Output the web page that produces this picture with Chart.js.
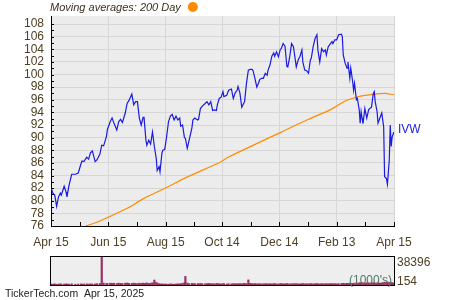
<!DOCTYPE html>
<html>
<head>
<meta charset="utf-8">
<script src="https://cdn.jsdelivr.net/npm/chart.js@4.4.1/dist/chart.umd.min.js"></script>
<style>
  html, body { margin: 0; padding: 0; background: #ffffff; }
  #wrap { position: relative; width: 450px; height: 300px; overflow: hidden; }
  #main { position: absolute; left: 0; top: 0; }
  #vol { position: absolute; left: 0; top: 250px; }
</style>
</head>
<body>
<div id="wrap">
  <canvas id="main" width="450" height="250"></canvas>
  <canvas id="vol" width="450" height="50"></canvas>
</div>
<script>
// ---- Data (days since Apr 15, 2024) ----
const priceDays = [0,2,4,6,8,10,11,14,16,17,19,22,26,29,32,33,35,38,40,42,44,47,49,52,54,56,59,60,63,65,67,70,72,74,76,79,81,83,86,88,90,92,94,96,98,99,101,102,104,106,108,110,112,113,115,116,118,119,121,123,125,127,129,131,133,135,137,138,140,142,143,145,147,150,151,153,156,157,159,161,164,166,168,170,172,174,176,177,179,181,183,184,187,189,192,194,196,198,199,201,203,205,206,208,210,212,214,215,217,219,221,222,224,226,228,230,231,233,235,237,238,240,242,244,245,247,249,251,252,254,256,258,260,261,263,265,267,268,270,272,274,276,277,279,281,283,284,286,288,290,292,293,295,297,299,300,302,304,306,309,310,311,313,315,316,318,319,321,322,323,325,326,328,329,330,331,332,334,336,338,339,341,343,344,345,347,348,350,352,354,355,357,358,360,361,362,363,365];
const priceVals = [82.1,81.2,80.9,79.1,80.6,81.2,80.9,82.3,81.4,80.6,82.3,84.2,84.2,84.4,85.9,86.3,86.2,86.9,86.6,87.6,87.9,86.2,86.5,87.4,88.8,88.7,90.2,91.3,92.5,93.1,92.3,91.2,92.5,92.9,92.4,93.9,95.4,95.9,96.9,95.2,95.7,95.7,93.1,92.0,93.2,93.2,89.6,88.8,89.6,89.0,90.9,88.6,86.7,84.8,85.4,84.6,87.5,88.0,88.1,90.1,92.5,93.4,93.7,92.8,93.4,92.8,93.1,91.8,92.0,90.0,89.9,88.3,89.6,91.6,92.8,93.1,92.8,92.9,94.6,95.0,95.4,95.7,95.2,95.7,94.3,94.4,94.3,95.2,96.2,96.4,97.3,96.5,96.7,97.5,97.7,96.2,97.1,97.5,98.1,97.1,94.8,95.4,95.7,98.6,100.7,100.8,100.8,100.6,99.4,98.0,98.7,99.2,99.4,99.4,100.2,99.9,100.7,101.5,102.9,103.4,102.9,103.6,102.8,104.0,104.1,104.9,104.5,101.3,101.2,102.8,104.9,104.4,102.3,101.2,102.3,102.9,103.9,102.0,100.7,100.6,100.2,102.3,102.6,104.4,105.7,106.3,103.9,102.0,104.1,103.6,103.9,103.1,104.4,104.8,105.2,104.9,105.5,105.5,106.3,106.4,106.0,103.1,101.8,101.0,102.0,99.4,101.0,98.9,97.5,98.6,96.0,96.2,94.4,92.3,94.1,93.1,92.2,94.6,93.1,94.4,94.6,94.8,97.0,97.3,95.7,94.1,92.3,93.1,93.9,91.7,83.8,83.5,82.6,86.5,92.0,88.6,90.1,90.9];

const maDays = [37,52,81,98,123,144,180,190,244,274,297,304,313,325,334,345,355,365];
const maVals = [76.0,76.8,78.8,80.3,82.1,83.7,86.1,87.0,90.8,92.9,94.4,95.0,95.8,96.4,96.7,96.9,97.0,96.8];

// volume in thousands, same days as price
const volVals = [1400,1200,1600,1000,1300,1600,1100,1300,1500,1200,
1300,1700,1100,1300,1500,1000,1400,1600,1200,1600,
1300,1500,1800,2000,38396,2700,2200,2100,2500,2200,
2400,2000,2600,2300,2100,2500,2700,2200,2200,2500,
2300,1900,2500,2200,2600,2100,2400,2800,2200,2500,
3100,6800,3400,2700,1800,1300,1600,1000,1500,1200,
1100,1600,1300,1000,1400,1700,1300,1900,2100,3200,
11800,2600,1900,2200,1700,2000,1600,1900,2100,1800,
1600,1900,2200,1700,1900,1600,1800,2000,1700,1500,
1600,1900,1400,1700,1600,1900,1800,1500,1600,1900,
1700,2000,2200,1900,7000,2300,1800,1600,1900,1700,
1600,1800,1500,1700,1900,1600,1400,1800,1600,1700,
1900,1600,1500,1800,1900,1700,1600,1900,1600,1500,
1700,1900,1600,1800,1600,1500,1700,1900,1600,1800,
1600,1900,1700,1500,1800,1900,1600,1600,1900,1700,
1500,1800,1600,1900,1700,1600,1900,1600,2000,1800,
1900,2200,1900,2300,2000,2500,2100,2200,1900,2500,
2800,2400,3000,2600,3100,2700,2900,2500,3100,2800,
2600,2900,3200,2700,2400,2800,3100,2600,2900,3300,
3900,3600,4200,3400,3200,2900,3100,2800];
const volMax = 38396;
const volMin = 154;

const xTickDays = [0,61,122,182,243,304,365];
const xTickLabels = ['Apr 15','Jun 15','Aug 15','Oct 14','Dec 14','Feb 13','Apr 15'];
const yTickVals = [76,78,80,82,84,86,88,90,92,94,96,98,100,102,104,106,108];

const symbol = 'IVW';
const titleText = 'Moving averages: 200 Day';
const footerText = 'TickerTech.com  Apr 15, 2025';

// ---- Styles ----
const FONT = "'Liberation Sans', Arial, sans-serif";
const LABEL_COLOR = '#4f4024';
const GRID_COLOR = '#d6d6d6';
const PLOT_BG = '#ececec';
const PRICE_COLOR = '#1a1ae0';
const MA_COLOR = '#ff8c00';

const mainPlugin = {
  id: 'mainDeco',
  beforeDraw(chart) {
    const {ctx, chartArea: a} = chart;
    ctx.save();
    ctx.fillStyle = PLOT_BG;
    ctx.fillRect(a.left, a.top, a.right - a.left, a.bottom - a.top);
    ctx.restore();
  },
  afterDraw(chart) {
    const {ctx, chartArea: a, scales} = chart;
    ctx.save();
    // inner tick marks
    ctx.strokeStyle = '#000';
    ctx.lineWidth = 1;
    ctx.beginPath();
    for (let v = yTickVals[0]; v <= yTickVals[yTickVals.length - 1]; v += 1) {
      const y = Math.round(scales.y.getPixelForValue(v)) + 0.5;
      ctx.moveTo(a.left, y); ctx.lineTo(a.left + 3, y);
    }
    const xt = [];
    for (let i = 0; i < xTickDays.length; i++) {
      xt.push(xTickDays[i]);
      if (i < xTickDays.length - 1) xt.push((xTickDays[i] + xTickDays[i + 1]) / 2);
    }
    xt.forEach(d => {
      const x = Math.round(scales.x.getPixelForValue(d)) + 0.5;
      ctx.moveTo(x, a.bottom); ctx.lineTo(x, a.bottom - 4);
    });
    ctx.stroke();

    // title
    ctx.font = "italic 11px " + FONT;
    ctx.fillStyle = '#3a3020';
    ctx.textBaseline = 'middle';
    ctx.textAlign = 'left';
    ctx.fillText(titleText, 50, 8);
    const w = ctx.measureText(titleText).width;
    ctx.fillStyle = MA_COLOR;
    ctx.beginPath();
    ctx.arc(50 + w + 12, 7, 5, 0, Math.PI * 2);
    ctx.fill();

    // symbol label at end of line
    const lastY = scales.y.getPixelForValue(priceVals[priceVals.length - 1]);
    ctx.font = "12px " + FONT;
    ctx.fillStyle = PRICE_COLOR;
    ctx.fillText(symbol, a.right + 4, lastY - 2);
    ctx.restore();
  }
};

new Chart(document.getElementById('main'), {
  type: 'line',
  data: {
    datasets: [
      {
        data: priceDays.map((d, i) => ({x: d, y: priceVals[i]})),
        borderColor: PRICE_COLOR, borderWidth: 1.2, pointRadius: 0, tension: 0, fill: false
      },
      {
        data: maDays.map((d, i) => ({x: d, y: maVals[i]})),
        borderColor: MA_COLOR, borderWidth: 1.2, pointRadius: 0, tension: 0.3, fill: false
      }
    ]
  },
  options: {
    responsive: false, animation: false, devicePixelRatio: 1,
    layout: {padding: {top: 16, right: 56, left: 0, bottom: 0}},
    plugins: {legend: {display: false}, tooltip: {enabled: false}, title: {display: false}},
    scales: {
      x: {
        type: 'linear', min: 0, max: 365, offset: false,
        afterBuildTicks: s => { s.ticks = xTickDays.map(v => ({value: v})); },
        afterFit: s => { s.height = 24; },
        ticks: {
          autoSkip: false, maxRotation: 0, minRotation: 0, padding: 9,
          color: LABEL_COLOR, font: {family: FONT, size: 12},
          callback: (v, i) => xTickLabels[i]
        },
        grid: {color: GRID_COLOR, drawTicks: false, lineWidth: 1},
        border: {display: true, color: '#000', width: 1}
      },
      y: {
        min: 76, max: 109.27,
        afterBuildTicks: s => { s.ticks = yTickVals.map(v => ({value: v})); },
        afterFit: s => { s.width = 51; },
        ticks: {
          autoSkip: false, padding: 7,
          color: LABEL_COLOR, font: {family: FONT, size: 12},
          callback: v => String(v)
        },
        grid: {color: GRID_COLOR, drawTicks: false, lineWidth: 1},
        border: {display: true, color: '#000', width: 1}
      }
    }
  },
  plugins: [mainPlugin]
});

const volPlugin = {
  id: 'volDeco',
  beforeDraw(chart) {
    const {ctx, chartArea: a} = chart;
    ctx.save();
    ctx.fillStyle = '#eeeeee';
    ctx.fillRect(a.left, a.top, a.right - a.left, a.bottom - a.top);
    ctx.restore();
  },
  afterDraw(chart) {
    const {ctx, chartArea: a} = chart;
    ctx.save();
    ctx.strokeStyle = '#000';
    ctx.lineWidth = 1;
    ctx.strokeRect(a.left - 0.5, a.top - 0.5, a.right - a.left + 1, a.bottom - a.top + 1);
    ctx.font = "12px " + FONT;
    ctx.textBaseline = 'middle';
    ctx.textAlign = 'left';
    ctx.fillStyle = LABEL_COLOR;
    ctx.fillText(String(volMax), a.right + 3, a.top + 6);
    ctx.fillText(String(volMin), a.right + 3, a.bottom - 3);
    ctx.textAlign = 'right';
    ctx.fillStyle = '#4e7a66';
    ctx.fillText("(1000's)", a.right - 2, a.bottom - 4);
    ctx.textAlign = 'left';
    ctx.fillStyle = '#222';
    ctx.font = "10.5px " + FONT;
    ctx.fillText(footerText, 5, 44);
    ctx.restore();
  }
};

new Chart(document.getElementById('vol'), {
  type: 'bar',
  data: {
    datasets: [{
      data: priceDays.map((d, i) => ({x: d, y: volVals[i]})),
      backgroundColor: '#9b2f64', borderWidth: 0, barThickness: 1.5
    }]
  },
  options: {
    responsive: false, animation: false, devicePixelRatio: 1,
    layout: {padding: {top: 7, right: 56, left: 51, bottom: 15}},
    plugins: {legend: {display: false}, tooltip: {enabled: false}},
    scales: {
      x: {type: 'linear', min: 0, max: 365, display: false, offset: false},
      y: {min: 0, max: volMax, display: false}
    }
  },
  plugins: [volPlugin]
});
</script>
</body>
</html>
